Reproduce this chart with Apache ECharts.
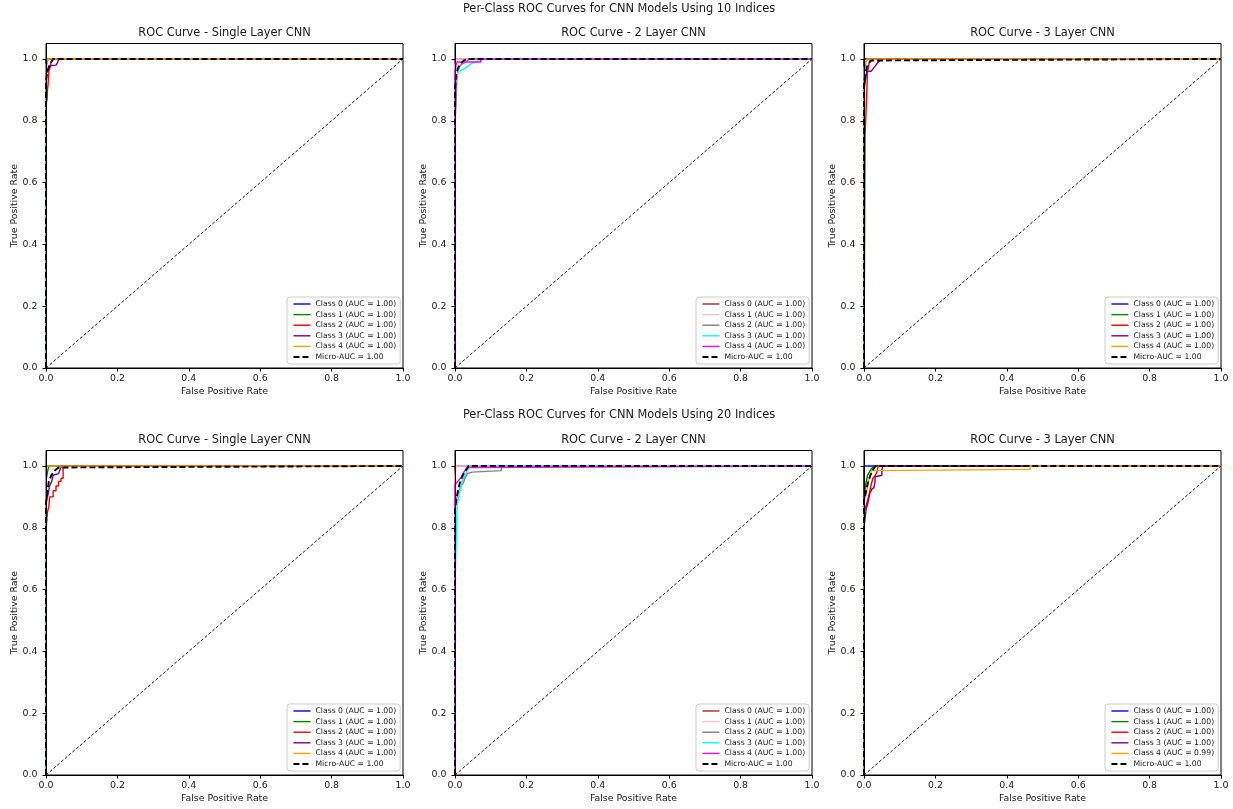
<!DOCTYPE html>
<html><head><meta charset="utf-8">
<script src="https://cdn.jsdelivr.net/npm/echarts@6/dist/echarts.min.js"></script>
<style>html,body{margin:0;padding:0;background:#fff}#c{width:1233px;height:809px}</style>
</head><body><div id="c"></div>
<script>
// ---------- text ----------
const suptitles = ['Per-Class ROC Curves for CNN Models Using 10 Indices', 'Per-Class ROC Curves for CNN Models Using 20 Indices'];
const panelTitles = ['ROC Curve - Single Layer CNN', 'ROC Curve - 2 Layer CNN', 'ROC Curve - 3 Layer CNN'];
const axisTicks = [0, 0.2, 0.4, 0.6, 0.8, 1.0];
const classNames = ['Class 0', 'Class 1', 'Class 2', 'Class 3', 'Class 4'];
const colorsA = ['#0000ff', '#008000', '#ff0000', '#800080', '#ffa500'];
const colorsB = ['#a52a2a', '#ffc0cb', '#808080', '#00ffff', '#ff00ff'];

// ---------- data: [FPR, TPR] ----------
// 10 indices, single layer
const roc10Single = [
  [[0,0],[0,1],[1,1]],
  [[0,0],[0,0.97],[0.003,0.99],[0.006,1],[1,1]],
  [[0,0],[0,0.85],[0.003,0.87],[0.004,0.9],[0.006,0.92],[0.008,0.96],[0.011,0.97],[0.014,0.99],[0.02,1],[1,1]],
  [[0,0],[0,0.95],[0.008,0.97],[0.012,0.978],[0.028,0.98],[0.033,0.99],[0.035,1],[1,1]],
  [[0,0],[0,0.98],[0.005,1],[1,1]]
];
const micro10Single = [[0,0],[0,0.93],[0.004,0.96],[0.008,0.975],[0.015,0.99],[0.02,1],[1,1]];
const auc10Single = ['1.00','1.00','1.00','1.00','1.00'];

// 10 indices, 2 layer
const roc10Two = [
  [[0,0],[0,1],[1,1]],
  [[0,0],[0,0.98],[0.005,1],[1,1]],
  [[0,0],[0,0.8],[0.003,0.85],[0.005,0.93],[0.008,0.96],[0.015,0.98],[0.03,0.99],[0.04,1],[1,1]],
  [[0,0],[0,0.9],[0.003,0.94],[0.01,0.96],[0.02,0.965],[0.035,0.975],[0.045,0.985],[0.06,0.99],[0.065,1],[1,1]],
  [[0,0],[0,0.96],[0.003,0.98],[0.006,0.99],[0.072,0.99],[0.072,1],[1,1]]
];
const micro10Two = [[0,0],[0,0.9],[0.003,0.95],[0.008,0.97],[0.015,0.985],[0.025,0.995],[0.035,1],[1,1]];
const auc10Two = ['1.00','1.00','1.00','1.00','1.00'];

// 10 indices, 3 layer
const roc10Three = [
  [[0,0],[0,1],[1,1]],
  [[0,0],[0,0.96],[0.005,0.99],[0.01,1],[1,1]],
  [[0,0],[0.003,0.75],[0.008,0.9],[0.01,0.96],[0.015,0.99],[0.02,1],[1,1]],
  [[0,0],[0,0.9],[0.008,0.96],[0.02,0.96],[0.03,0.975],[0.04,0.99],[0.05,1],[1,1]],
  [[0,0],[0,0.97],[0.005,0.99],[0.01,1],[1,1]]
];
const micro10Three = [[0,0],[0,0.92],[0.005,0.96],[0.01,0.98],[0.02,0.995],[0.025,1],[1,1]];
const auc10Three = ['1.00','1.00','1.00','1.00','1.00'];

// 20 indices, single layer
const roc20Single = [
  [[0,0],[0,1],[1,1]],
  [[0,0],[0,0.95],[0.004,0.98],[0.008,1],[1,1]],
  [[0,0],[0,0.79],[0.004,0.85],[0.008,0.87],[0.01,0.9],[0.02,0.9],[0.02,0.92],[0.028,0.92],[0.028,0.935],[0.035,0.935],[0.035,0.95],[0.042,0.95],[0.042,0.96],[0.048,0.96],[0.048,1],[1,1]],
  [[0,0],[0,0.88],[0.006,0.91],[0.01,0.935],[0.016,0.95],[0.02,0.97],[0.035,0.975],[0.04,0.99],[0.044,1],[1,1]],
  [[0,0],[0,0.97],[0,1],[1,1]]
];
const micro20Single = [[0,0],[0,0.88],[0.004,0.92],[0.008,0.95],[0.015,0.97],[0.025,0.985],[0.035,0.995],[0.04,1],[1,1]];
const auc20Single = ['1.00','1.00','1.00','1.00','1.00'];

// 20 indices, 2 layer
const roc20Two = [
  [[0,0],[0,1],[1,1]],
  [[0,0],[0,0.97],[0.003,1],[1,1]],
  [[0,0],[0,0.88],[0.009,0.91],[0.014,0.93],[0.023,0.945],[0.028,0.96],[0.035,0.975],[0.047,0.98],[0.05,0.985],[0.13,0.985],[0.13,1],[1,1]],
  [[0,0],[0,0.62],[0.003,0.75],[0.006,0.87],[0.01,0.9],[0.014,0.92],[0.02,0.95],[0.03,0.975],[0.037,0.99],[0.04,1],[1,1]],
  [[0,0],[0,0.94],[0.005,0.94],[0.015,0.96],[0.025,0.98],[0.033,0.995],[0.035,1],[1,1]]
];
const micro20Two = [[0,0],[0,0.86],[0.005,0.9],[0.01,0.93],[0.015,0.95],[0.022,0.97],[0.03,0.985],[0.038,1],[1,1]];
const auc20Two = ['1.00','1.00','1.00','1.00','1.00'];

// 20 indices, 3 layer
const roc20Three = [
  [[0,0],[0,1],[1,1]],
  [[0,0],[0,0.9],[0.005,0.94],[0.01,0.97],[0.02,0.99],[0.028,1],[1,1]],
  [[0,0],[0,0.85],[0.008,0.88],[0.015,0.91],[0.02,0.94],[0.025,0.96],[0.032,0.97],[0.036,0.98],[0.04,1],[1,1]],
  [[0,0],[0,0.8],[0.006,0.86],[0.012,0.885],[0.016,0.91],[0.022,0.925],[0.028,0.93],[0.031,0.95],[0.031,0.965],[0.036,0.97],[0.05,0.97],[0.05,0.985],[0.052,1],[1,1]],
  [[0,0],[0,0.88],[0.006,0.91],[0.012,0.95],[0.017,0.97],[0.022,0.985],[0.025,0.989],[0.465,0.989],[0.465,1],[1,1]]
];
const micro20Three = [[0,0],[0,0.89],[0.006,0.92],[0.012,0.95],[0.018,0.97],[0.024,0.985],[0.032,1],[1,1]];
const auc20Three = ['1.00','1.00','1.00','1.00','0.99'];

const microAuc = ['1.00','1.00','1.00','1.00','1.00','1.00'];
const diagonal = [[0,0],[1,1]];

// ---------- layout ----------
const gridLefts = [46, 455, 864];
const gridTops = [43.5, 450.5];
const gridW = 357, gridH = 324.5;
const FONT = 'DejaVu Sans';
const TXT = '#1a1a1a';
const NOSYM = {color: 'rgba(0,0,0,0)', opacity: 0, borderWidth: 0};

const panelCurves = [roc10Single, roc10Two, roc10Three, roc20Single, roc20Two, roc20Three];
const panelMicro = [micro10Single, micro10Two, micro10Three, micro20Single, micro20Two, micro20Three];
const panelAuc = [auc10Single, auc10Two, auc10Three, auc20Single, auc20Two, auc20Three];
const panelColors = [colorsA, colorsB, colorsA, colorsA, colorsB, colorsA];

const grids = [], xAxes = [], yAxes = [], series = [], legends = [], titles = [];

suptitles.forEach((t, r) => {
  titles.push({text: t, left: 619, top: r === 0 ? 4 : 410, textAlign: 'center', padding: 0,
    textStyle: {fontSize: 11.4, fontWeight: 'normal', color: TXT, fontFamily: FONT}});
});

for (let p = 0; p < 6; p++) {
  const row = Math.floor(p / 3), col = p % 3;
  const left = gridLefts[col], top = gridTops[row];
  grids.push({left: left, top: top, width: gridW, height: gridH, show: true,
    borderColor: '#000', borderWidth: 1, backgroundColor: 'transparent', containLabel: false});
  titles.push({text: panelTitles[col], left: left + gridW / 2, top: top - 16, textAlign: 'center', padding: 0,
    textStyle: {fontSize: 11.4, fontWeight: 'normal', color: TXT, fontFamily: FONT}});
  xAxes.push({gridIndex: p, type: 'value', min: 0, max: 1, interval: 0.2, z: 5,
    axisLine: {show: true, onZero: false, lineStyle: {color: '#000', width: 1}},
    axisTick: {show: true, inside: false, length: 3.5, lineStyle: {color: '#000', width: 1}},
    axisLabel: {fontSize: 9.4, color: TXT, margin: 6, fontFamily: FONT, formatter: v => v.toFixed(1)},
    splitLine: {show: false},
    name: 'False Positive Rate', nameLocation: 'middle', nameGap: 19,
    nameTextStyle: {fontSize: 9.4, color: TXT, fontFamily: FONT}});
  yAxes.push({gridIndex: p, type: 'value', min: 0, max: 1.05, z: 5,
    axisLine: {show: true, onZero: false, lineStyle: {color: '#000', width: 1}},
    axisTick: {show: true, inside: false, length: 3.5, customValues: axisTicks, lineStyle: {color: '#000', width: 1}},
    axisLabel: {fontSize: 9.4, color: TXT, margin: 8.5, fontFamily: FONT, customValues: axisTicks, formatter: v => v.toFixed(1)},
    splitLine: {show: false},
    name: 'True Positive Rate', nameLocation: 'middle', nameGap: 27,
    nameTextStyle: {fontSize: 9.4, color: TXT, fontFamily: FONT}});

  const legendData = [];
  panelCurves[p].forEach((curve, i) => {
    const nm = classNames[i] + ' (AUC = ' + panelAuc[p][i] + ')';
    const c = panelColors[p][i];
    series.push({type: 'line', name: nm, xAxisIndex: p, yAxisIndex: p, data: curve,
      symbol: 'none', showSymbol: false, animation: false, clip: true,
      lineStyle: {color: c, width: 1.4}, itemStyle: {color: c}});
    legendData.push({name: nm, itemStyle: NOSYM, lineStyle: {color: c, width: 1.4, type: 'solid', opacity: 1}});
  });
  const mName = 'Micro-AUC = ' + microAuc[p];
  series.push({type: 'line', name: mName, xAxisIndex: p, yAxisIndex: p, data: panelMicro[p],
    symbol: 'none', showSymbol: false, animation: false,
    lineStyle: {color: '#000', width: 1.9, type: [6, 3]}, itemStyle: {color: '#000'}});
  legendData.push({name: mName, itemStyle: NOSYM, lineStyle: {color: '#000', width: 1.9, type: [6, 3], opacity: 1}});
  series.push({type: 'line', name: 'diag' + p, xAxisIndex: p, yAxisIndex: p, data: diagonal,
    symbol: 'none', showSymbol: false, animation: false, silent: true,
    lineStyle: {color: '#000', width: 0.9, type: [3, 2]}});

  legends.push({left: left + 241, top: top + 253.5, orient: 'vertical', selectedMode: false,
    itemWidth: 17, itemHeight: 7, itemGap: 1.6, padding: [2.5, 4, 2.5, 5.5],
    borderColor: '#cccccc', borderWidth: 1, borderRadius: 3, backgroundColor: 'rgba(255,255,255,0.85)',
    textStyle: {fontSize: 7.7, lineHeight: 9, color: TXT, fontFamily: FONT},
    data: legendData});
}

const chart = echarts.init(document.getElementById('c'), null, {renderer: 'canvas'});
chart.setOption({
  animation: false,
  backgroundColor: '#fff',
  title: titles,
  grid: grids,
  xAxis: xAxes,
  yAxis: yAxes,
  legend: legends,
  series: series
});
</script>
</body></html>
